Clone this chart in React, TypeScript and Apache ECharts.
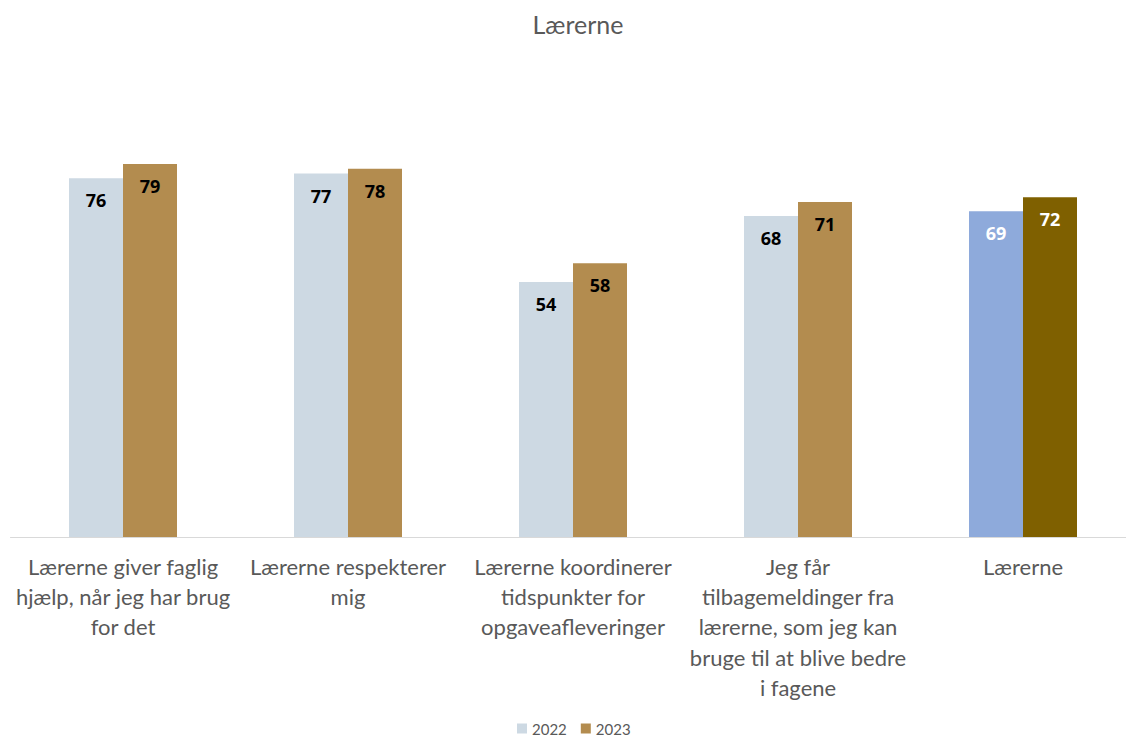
import React, { useEffect, useRef } from "react";
import * as echarts from "echarts";

const categories = [
  "Lærerne giver faglig\nhjælp, når jeg har brug\nfor det",
  "Lærerne respekterer\nmig",
  "Lærerne koordinerer\ntidspunkter for\nopgaveafleveringer",
  "Jeg får\ntilbagemeldinger fra\nlærerne, som jeg kan\nbruge til at blive bedre\ni fagene",
  "Lærerne",
];
const values2022 = [76, 77, 54, 68, 69];
const values2023 = [79, 78, 58, 71, 72];
const seriesNames = ["2022", "2023"];

const c2022 = "#CDD9E3";
const c2023 = "#B38C4F";
const c2022Total = "#8EAADB";
const c2023Total = "#7F6000";

export default function App() {
  const ref = useRef<HTMLDivElement>(null);
  useEffect(() => {
    document.body.style.margin = "0";
    document.body.style.overflow = "hidden";
    const chart = echarts.init(ref.current!, undefined, { renderer: "svg" });
    const font = "Lato, 'Open Sans', sans-serif";
    const mk = (vals: number[], base: string, total: string) =>
      vals.map((v, i) =>
        i === vals.length - 1
          ? { value: v, itemStyle: { color: total }, label: { color: "#FFFFFF" } }
          : { value: v, itemStyle: { color: base } }
      );
    const labelCfg = {
      show: true,
      position: "insideTop",
      distance: 13,
      fontFamily: "'Open Sans', sans-serif",
      fontWeight: "bold",
      fontSize: 18,
      color: "#000000",
    };
    chart.setOption({
      animation: false,
      title: {
        text: "Lærerne",
        left: 573,
        top: 6,
        textAlign: "center",
        textStyle: { fontFamily: font, fontSize: 25, fontWeight: "normal", color: "#595959" },
      },
      legend: {
        data: seriesNames,
        left: 517,
        bottom: 2,
        padding: 0,
        itemWidth: 10,
        itemHeight: 10,
        itemGap: 14,
        icon: "rect",
        textStyle: { fontFamily: font, fontSize: 15, color: "#595959" },
      },
      grid: { left: 10.5, top: 65, right: 10.5, bottom: 201 },
      xAxis: {
        type: "category",
        data: categories,
        axisLine: { lineStyle: { color: "#D9D9D9", width: 1 } },
        axisTick: { show: false },
        axisLabel: {
          interval: 0,
          margin: 14,
          fontFamily: font,
          fontSize: 22,
          lineHeight: 30.3,
          color: "#595959",
          align: "center",
        },
      },
      yAxis: { type: "value", min: 0, max: 100, show: false, splitLine: { show: false } },
      series: [
        {
          name: seriesNames[0],
          type: "bar",
          data: mk(values2022, c2022, c2022Total),
          itemStyle: { color: c2022 },
          barGap: "0%",
          barCategoryGap: "52%",
          label: labelCfg,
        },
        {
          name: seriesNames[1],
          type: "bar",
          data: mk(values2023, c2023, c2023Total),
          itemStyle: { color: c2023 },
          barGap: "0%",
          barCategoryGap: "52%",
          label: labelCfg,
        },
      ],
    });
    return () => chart.dispose();
  }, []);
  return <div ref={ref} style={{ width: 1146, height: 738 }} />;
}
